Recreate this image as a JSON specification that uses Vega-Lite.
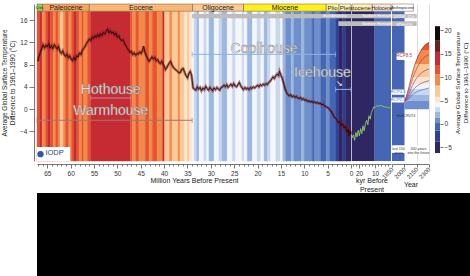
{
  "$schema": "https://vega.github.io/schema/vega-lite/v6.json",
  "padding": {"left": 1, "top": 3, "right": 0, "bottom": 0},
  "background": "white",
  "config": {
    "font": "Liberation Sans",
    "view": {"stroke": null},
    "axis": {"labelFont": "Liberation Sans", "titleFont": "Liberation Sans", "labelFontSize": 6.5, "titleFontSize": 7, "titleFontWeight": "normal", "domainColor": "#555", "tickColor": "#555", "labelColor": "#333", "titleColor": "#222", "domainWidth": 0.8, "tickWidth": 0.8}
  },
  "datasets": {
    "stripes1": [
      {"s":67.2,"e":66.6,"t":11.5},{"s":66.6,"e":66.1,"t":13.0},{"s":66.1,"e":65.4,"t":9.5},{"s":65.4,"e":64.9,"t":11.5},{"s":64.9,"e":64.3,"t":13.0},{"s":64.3,"e":63.7,"t":11.5},{"s":63.7,"e":63.2,"t":9.5},{"s":63.2,"e":62.7,"t":11.5},{"s":62.7,"e":62.2,"t":9.5},{"s":62.2,"e":61.6,"t":7.0},{"s":61.6,"e":61.1,"t":9.5},{"s":61.1,"e":60.4,"t":11.5},{"s":60.4,"e":59.8,"t":9.5},{"s":59.8,"e":59.3,"t":11.5},{"s":59.3,"e":58.7,"t":13.0},{"s":58.7,"e":58.2,"t":11.5},{"s":58.2,"e":57.6,"t":9.5},{"s":57.6,"e":57.2,"t":11.5},{"s":57.2,"e":56.4,"t":9.5},{"s":56.4,"e":55.7,"t":11.5},
      {"s":55.7,"e":47.2,"t":13.8},
      {"s":47.2,"e":46.8,"t":11.5},{"s":46.8,"e":46.0,"t":9.5},{"s":46.0,"e":45.4,"t":11.5},{"s":45.4,"e":44.0,"t":9.5},{"s":44.0,"e":43.2,"t":11.5},{"s":43.2,"e":42.5,"t":9.5},{"s":42.5,"e":41.5,"t":11.5},{"s":41.5,"e":40.3,"t":9.5},{"s":40.3,"e":39.9,"t":13.0},{"s":39.9,"e":38.8,"t":7.0},{"s":38.8,"e":38.3,"t":9.5},{"s":38.3,"e":37.0,"t":7.0},{"s":37.0,"e":36.6,"t":9.5},{"s":36.6,"e":35.6,"t":7.0},{"s":35.6,"e":35.0,"t":5.2},{"s":35.0,"e":34.6,"t":7.0},{"s":34.6,"e":34.0,"t":5.2},
      {"s":34.0,"e":33.6,"t":4.1},{"s":33.6,"e":33.0,"t":3.1},{"s":33.0,"e":32.5,"t":2.0},{"s":32.5,"e":31.5,"t":4.1},{"s":31.5,"e":30.9,"t":3.1},{"s":30.9,"e":30.4,"t":4.1},{"s":30.4,"e":29.3,"t":2.0},{"s":29.3,"e":28.3,"t":4.1},{"s":28.3,"e":27.6,"t":3.1},{"s":27.6,"e":26.5,"t":2.0},{"s":26.5,"e":25.4,"t":4.1},{"s":25.4,"e":24.7,"t":3.1},{"s":24.7,"e":23.3,"t":4.1},{"s":23.3,"e":22.9,"t":3.1},{"s":22.9,"e":22.2,"t":4.1},{"s":22.2,"e":21.1,"t":2.0},{"s":21.1,"e":20.1,"t":4.1},{"s":20.1,"e":19.3,"t":3.1},{"s":19.3,"e":18.6,"t":4.1},{"s":18.6,"e":17.9,"t":2.0},{"s":17.9,"e":17.2,"t":3.1},{"s":17.2,"e":16.1,"t":4.1},{"s":16.1,"e":15.1,"t":3.1},{"s":15.1,"e":14.6,"t":4.1},{"s":14.6,"e":14.0,"t":2.0},
      {"s":14.0,"e":12.8,"t":0.8},{"s":12.8,"e":12.2,"t":2.0},{"s":12.2,"e":10.6,"t":0.8},{"s":10.6,"e":10.0,"t":2.0},{"s":10.0,"e":8.3,"t":0.8},{"s":8.3,"e":7.8,"t":-0.6},{"s":7.8,"e":6.5,"t":0.8},{"s":6.5,"e":5.3,"t":-0.6},{"s":5.3,"e":4.5,"t":0.8},{"s":4.5,"e":3.2,"t":-0.6},{"s":3.2,"e":2.6,"t":-2.6},{"s":2.6,"e":1.8,"t":-5},{"s":1.8,"e":1.2,"t":-2.6},{"s":1.2,"e":0.0,"t":-5}
    ],
    "stripes2": [{"s":24.4,"e":10.2,"t":-5},{"s":10.2,"e":0,"t":-0.6}],
    "stripes3": [{"s":1850,"e":2000,"t":-0.6}],
    "epochs1": [{"n":"Cret.","s":67.2,"e":66},{"n":"Paleocene","s":66,"e":56},{"n":"Eocene","s":56,"e":33.9},{"n":"Oligocene","s":33.9,"e":23},{"n":"Miocene","s":23,"e":5.3},{"n":"Plio","s":5.3,"e":2.58},{"n":"Pleistocene","s":2.58,"e":0}],
    "elabels1": [{"n":"Cret.","m":66.6},{"n":"Paleocene","m":61},{"n":"Eocene","m":44.95},{"n":"Oligocene","m":28.45},{"n":"Miocene","m":14.15},{"n":"Plio","m":3.94}],
    "epochs2": [{"n":"Pleistocene","s":24.4,"e":11.7},{"n":"Holocene","s":11.7,"e":0}],
    "elabels2": [{"n":"Pleistocene","k":22.3},{"n":"Holocene","k":5.6}],
    "epochs3": [{"n":"Anthropocene","s":1850,"e":2110}],
    "ice1": [{"sheet":"Antarctic","s":34,"e":0},{"sheet":"Northern","s":2.7,"e":0}],
    "ice2": [{"sheet":"Antarctic","s":24.4,"e":0},{"sheet":"Northern","s":24.4,"e":0}],
    "ice3": [{"sheet":"Antarctic","s":1850,"e":2150},{"sheet":"Northern","s":1850,"e":2150}],
    "temp1": [
      {"m":67.0,"T":8.6},{"m":66.8,"T":9.4},{"m":66.5,"T":10.2},{"m":66.2,"T":10.8},{"m":65.9,"T":11.6},{"m":65.6,"T":11.0},{"m":65.3,"T":11.5},{"m":65.0,"T":11.2},{"m":64.7,"T":11.8},{"m":64.4,"T":11.0},{"m":64.1,"T":11.4},{"m":63.8,"T":10.9},{"m":63.5,"T":11.6},{"m":63.2,"T":11.2},{"m":62.9,"T":10.8},{"m":62.6,"T":11.3},{"m":62.3,"T":10.4},{"m":62.0,"T":10.0},{"m":61.7,"T":10.5},{"m":61.4,"T":9.8},{"m":61.1,"T":9.5},{"m":60.8,"T":9.9},{"m":60.5,"T":9.2},{"m":60.2,"T":9.6},{"m":59.9,"T":9.0},{"m":59.6,"T":8.7},{"m":59.3,"T":9.3},{"m":59.0,"T":8.8},{"m":58.7,"T":9.6},{"m":58.4,"T":9.4},{"m":58.1,"T":10.1},{"m":57.8,"T":9.8},{"m":57.5,"T":10.6},{"m":57.2,"T":10.9},{"m":56.9,"T":11.3},{"m":56.6,"T":11.8},{"m":56.3,"T":12.2},{"m":56.0,"T":12.6},{"m":55.7,"T":12.3},{"m":55.4,"T":13.0},{"m":55.1,"T":12.7},{"m":54.8,"T":13.2},{"m":54.5,"T":12.9},{"m":54.2,"T":13.4},{"m":53.9,"T":13.0},{"m":53.6,"T":13.6},{"m":53.3,"T":13.2},{"m":53.0,"T":13.8},{"m":52.7,"T":13.5},{"m":52.4,"T":14.0},{"m":52.1,"T":14.4},{"m":51.8,"T":13.7},{"m":51.5,"T":14.1},{"m":51.2,"T":13.6},{"m":50.9,"T":13.9},{"m":50.6,"T":13.3},{"m":50.3,"T":13.7},{"m":50.0,"T":12.9},{"m":49.7,"T":13.2},{"m":49.4,"T":12.6},{"m":49.1,"T":12.3},{"m":48.8,"T":12.5},{"m":48.5,"T":11.9},{"m":48.2,"T":11.4},{"m":47.9,"T":11.0},{"m":47.6,"T":10.6},{"m":47.3,"T":10.2},{"m":47.0,"T":10.4},{"m":46.7,"T":9.8},{"m":46.4,"T":10.1},{"m":46.1,"T":9.7},{"m":45.8,"T":10.0},{"m":45.5,"T":9.9},{"m":45.2,"T":10.3},{"m":44.9,"T":10.0},{"m":44.6,"T":10.6},{"m":44.4,"T":11.3},{"m":44.1,"T":10.2},{"m":43.8,"T":9.6},{"m":43.5,"T":9.0},{"m":43.2,"T":8.6},{"m":42.9,"T":9.0},{"m":42.6,"T":9.4},{"m":42.3,"T":9.0},{"m":42.0,"T":9.3},{"m":41.7,"T":8.7},{"m":41.4,"T":8.9},{"m":41.1,"T":8.4},{"m":40.8,"T":8.2},{"m":40.5,"T":8.6},{"m":40.2,"T":8.0},{"m":39.9,"T":7.6},{"m":39.7,"T":7.1},{"m":39.4,"T":7.5},{"m":39.1,"T":8.0},{"m":38.8,"T":8.4},{"m":38.6,"T":8.6},{"m":38.3,"T":7.9},{"m":38.0,"T":7.5},{"m":37.7,"T":7.2},{"m":37.4,"T":7.0},{"m":37.1,"T":6.8},{"m":36.8,"T":6.5},{"m":36.5,"T":6.6},{"m":36.2,"T":7.2},{"m":35.9,"T":7.3},{"m":35.6,"T":6.6},{"m":35.3,"T":6.0},{"m":35.0,"T":5.6},{"m":34.7,"T":6.4},{"m":34.4,"T":6.8},{"m":34.1,"T":6.0},{"m":33.8,"T":3.8},{"m":33.5,"T":3.6},{"m":33.2,"T":3.4},{"m":32.9,"T":4.0},{"m":32.6,"T":3.6},{"m":32.3,"T":3.9},{"m":32.0,"T":3.3},{"m":31.7,"T":3.8},{"m":31.4,"T":3.5},{"m":31.1,"T":4.1},{"m":30.8,"T":3.7},{"m":30.5,"T":3.4},{"m":30.2,"T":3.9},{"m":29.9,"T":3.6},{"m":29.6,"T":3.3},{"m":29.3,"T":3.8},{"m":29.0,"T":3.5},{"m":28.7,"T":3.9},{"m":28.4,"T":3.6},{"m":28.1,"T":3.4},{"m":27.8,"T":3.9},{"m":27.5,"T":4.0},{"m":27.2,"T":4.3},{"m":26.9,"T":4.0},{"m":26.6,"T":4.4},{"m":26.3,"T":3.9},{"m":26.0,"T":4.2},{"m":25.7,"T":4.5},{"m":25.4,"T":4.1},{"m":25.1,"T":4.6},{"m":24.8,"T":4.2},{"m":24.5,"T":4.0},{"m":24.2,"T":4.4},{"m":23.9,"T":4.8},{"m":23.6,"T":4.2},{"m":23.3,"T":3.8},{"m":23.0,"T":3.5},{"m":22.7,"T":3.9},{"m":22.4,"T":3.6},{"m":22.1,"T":3.8},{"m":21.8,"T":3.5},{"m":21.5,"T":3.9},{"m":21.2,"T":3.7},{"m":20.9,"T":4.0},{"m":20.6,"T":3.8},{"m":20.3,"T":4.1},{"m":20.0,"T":4.3},{"m":19.7,"T":4.0},{"m":19.4,"T":4.4},{"m":19.1,"T":4.2},{"m":18.8,"T":4.5},{"m":18.5,"T":4.3},{"m":18.2,"T":4.6},{"m":17.9,"T":4.4},{"m":17.6,"T":4.8},{"m":17.3,"T":5.0},{"m":17.0,"T":5.4},{"m":16.7,"T":5.8},{"m":16.4,"T":5.5},{"m":16.1,"T":6.0},{"m":15.8,"T":6.3},{"m":15.5,"T":6.0},{"m":15.3,"T":6.8},{"m":15.0,"T":6.1},{"m":14.7,"T":5.5},{"m":14.4,"T":4.6},{"m":14.1,"T":3.6},{"m":13.8,"T":3.0},{"m":13.5,"T":2.6},{"m":13.2,"T":2.4},{"m":12.9,"T":2.6},{"m":12.6,"T":2.2},{"m":12.3,"T":2.4},{"m":12.0,"T":2.1},{"m":11.7,"T":2.3},{"m":11.4,"T":2.0},{"m":11.1,"T":1.9},{"m":10.8,"T":2.1},{"m":10.5,"T":1.7},{"m":10.2,"T":1.9},{"m":9.9,"T":1.6},{"m":9.6,"T":1.7},{"m":9.3,"T":1.4},{"m":9.0,"T":1.5},{"m":8.7,"T":1.3},{"m":8.4,"T":1.4},{"m":8.1,"T":1.2},{"m":7.8,"T":1.3},{"m":7.5,"T":1.1},{"m":7.2,"T":1.2},{"m":6.9,"T":1.0},{"m":6.6,"T":1.1},{"m":6.3,"T":0.8},{"m":6.0,"T":0.9},{"m":5.7,"T":0.6},{"m":5.4,"T":0.5},{"m":5.1,"T":0.3},{"m":4.8,"T":0.2},{"m":4.5,"T":-0.2},{"m":4.2,"T":-0.4},{"m":3.9,"T":-0.9},{"m":3.6,"T":-1.4},{"m":3.3,"T":-1.6},{"m":3.0,"T":-2.0},{"m":2.7,"T":-2.4},{"m":2.4,"T":-2.2},{"m":2.1,"T":-3.0},{"m":1.8,"T":-2.6},{"m":1.5,"T":-3.4},{"m":1.2,"T":-3.0},{"m":0.9,"T":-4.2},{"m":0.6,"T":-3.6},{"m":0.4,"T":-4.8},{"m":0.2,"T":-3.9},{"m":0.0,"T":-4.5}
    ],
    "temp2": [
      {"k":24.4,"T":-5.2},{"k":23.5,"T":-4.6},{"k":22.8,"T":-5.6},{"k":22.0,"T":-4.2},{"k":21.3,"T":-5.0},{"k":20.5,"T":-3.8},{"k":19.8,"T":-4.8},{"k":19.0,"T":-3.5},{"k":18.3,"T":-4.4},{"k":17.5,"T":-3.0},{"k":16.8,"T":-3.9},{"k":16.0,"T":-2.6},{"k":15.2,"T":-2.0},{"k":14.5,"T":-2.8},{"k":13.8,"T":-1.2},{"k":13.0,"T":-1.8},{"k":12.3,"T":-0.6},{"k":11.6,"T":-0.2},{"k":10.8,"T":0.4},{"k":10.0,"T":0.3},{"k":9.0,"T":0.6},{"k":8.0,"T":0.5},{"k":7.0,"T":0.7},{"k":6.0,"T":0.6},{"k":5.0,"T":0.5},{"k":4.0,"T":0.4},{"k":3.0,"T":0.4},{"k":2.0,"T":0.3},{"k":1.0,"T":0.2},{"k":0.2,"T":0.3}
    ],
    "rcp": [
      {"run":"R1","yr":2000,"T":1.2},{"run":"R1","yr":2050,"T":3.6},{"run":"R1","yr":2100,"T":6.6},{"run":"R1","yr":2150,"T":8.9},{"run":"R1","yr":2200,"T":10.5},{"run":"R1","yr":2250,"T":11.5},{"run":"R1","yr":2300,"T":12.0},
      {"run":"R2","yr":2000,"T":1.2},{"run":"R2","yr":2050,"T":3.0},{"run":"R2","yr":2100,"T":5.5},{"run":"R2","yr":2150,"T":7.3},{"run":"R2","yr":2200,"T":8.6},{"run":"R2","yr":2250,"T":9.4},{"run":"R2","yr":2300,"T":9.8},
      {"run":"R3","yr":2000,"T":1.2},{"run":"R3","yr":2050,"T":2.5},{"run":"R3","yr":2100,"T":4.3},{"run":"R3","yr":2150,"T":5.6},{"run":"R3","yr":2200,"T":6.4},{"run":"R3","yr":2250,"T":6.9},{"run":"R3","yr":2300,"T":7.2},
      {"run":"R4","yr":2000,"T":1.2},{"run":"R4","yr":2050,"T":2.1},{"run":"R4","yr":2100,"T":3.3},{"run":"R4","yr":2150,"T":4.1},{"run":"R4","yr":2200,"T":4.6},{"run":"R4","yr":2250,"T":4.9},{"run":"R4","yr":2300,"T":5.1},
      {"run":"R5","yr":2000,"T":1.2},{"run":"R5","yr":2050,"T":1.8},{"run":"R5","yr":2100,"T":2.6},{"run":"R5","yr":2150,"T":3.1},{"run":"R5","yr":2200,"T":3.4},{"run":"R5","yr":2250,"T":3.6},{"run":"R5","yr":2300,"T":3.8},
      {"run":"R6","yr":2000,"T":1.2},{"run":"R6","yr":2050,"T":1.5},{"run":"R6","yr":2100,"T":1.8},{"run":"R6","yr":2150,"T":1.9},{"run":"R6","yr":2200,"T":2.0},{"run":"R6","yr":2250,"T":2.0},{"run":"R6","yr":2300,"T":2.0}
    ],
    "houses": [{"txt":"Hothouse","m":51.4,"T":3.43},{"txt":"Warmhouse","m":51.4,"T":-0.34},{"txt":"Coolhouse","m":18.6,"T":10.75},{"txt":"Icehouse","m":6.1,"T":6.55}],
    "brackets": [{"name":"Warmhouse","s":67.2,"e":34,"T":-2.0},{"name":"Hothouse","s":55.7,"e":47.2,"T":2.0},{"name":"Coolhouse","s":34,"e":3.3,"T":9.85},{"name":"Icehouse","s":3.3,"e":0,"T":3.55}],
    "boxes3": [{"s":1905,"e":2090,"lo":8.85,"hi":10.15},{"s":1850,"e":2000,"lo":2.6,"hi":3.55},{"s":1850,"e":2000,"lo":1.2,"hi":2.1},{"s":1850,"e":2010,"lo":-7.9,"hi":-6.5},{"s":2045,"e":2300,"lo":-7.9,"hi":-6.5}],
    "labels3": [{"txt":"RCP8.5","yr":1997,"T":9.5,"grp":"red"},{"txt":"RCP4.5","yr":1925,"T":3.07,"grp":"blue"},{"txt":"RCP2.6","yr":1925,"T":1.64,"grp":"blue"},{"txt":"HadCRUT4","yr":2020,"T":-1.25,"grp":"dark"},{"txt":["last 150","years"],"yr":1930,"T":-7.2,"grp":"dark"},{"txt":["300 years","into the future"],"yr":2172,"T":-7.2,"grp":"dark"}],
    "cbar": [{"lo":-6.2,"hi":-3.8,"t":-5},{"lo":-3.8,"hi":-1.4,"t":-2.6},{"lo":-1.4,"hi":0.2,"t":-0.6},{"lo":0.2,"hi":1.4,"t":0.8},{"lo":1.4,"hi":2.6,"t":2.0},{"lo":2.6,"hi":3.6,"t":3.1},{"lo":3.6,"hi":4.6,"t":4.1},{"lo":4.6,"hi":5.8,"t":5.2},{"lo":5.8,"hi":8.2,"t":7},{"lo":8.2,"hi":10.6,"t":9.4},{"lo":10.6,"hi":12.6,"t":11.6},{"lo":12.6,"hi":15.4,"t":14},{"lo":15.4,"hi":17.8,"t":16.6},{"lo":17.8,"hi":20.9,"t":19.3}]
  },
  "vconcat": [
    {
      "hconcat": [
        {
          "hconcat": [
            {
              "width": 314, "height": 157,
              "resolve": {"axis": {"x": "independent", "y": "independent"}},
              "layer": [
                {"data": {"name": "stripes1"}, "mark": {"type": "rect", "strokeWidth": 0.4},
                 "encoding": {
                   "x": {"field": "s", "type": "quantitative", "scale": {"domain": [0, 67.2], "reverse": true, "nice": false, "zero": false},
                         "axis": {"values": [0,1,2,3,4,5,6,7,8,9,10,11,12,13,14,15,16,17,18,19,20,21,22,23,24,25,26,27,28,29,30,31,32,33,34,35,36,37,38,39,40,41,42,43,44,45,46,47,48,49,50,51,52,53,54,55,56,57,58,59,60,61,62,63,64,65,66,67],
                                  "labelExpr": "datum.value % 5 === 0 ? datum.label : ''",
                                  "tickSize": {"condition": {"test": "datum.value % 5 === 0", "value": 4}, "value": 2},
                                  "format": "d", "offset": 3, "labelOverlap": false, "labelFlush": false, "labelPadding": 2, "title": "Million Years Before Present", "titlePadding": 0}},
                   "x2": {"field": "e"},
                   "y": {"datum": -9.32, "type": "quantitative", "scale": {"domain": [-9.32, 18.9], "nice": false, "zero": false},
                         "axis": {"values": [-4,0,4,8,12,16], "format": "d", "tickSize": 5, "offset": 3, "labelPadding": 2, "labelOverlap": false, "labelFlush": false, "grid": true, "gridColor": "#ffffff", "gridOpacity": 0.25, "gridWidth": 0.6,
                                  "title": ["Average Global Surface Temperature", "Difference to 1961–1990 (°C)"], "titleFontSize": 6.5, "titlePadding": 4}},
                   "y2": {"datum": 17.6},
                   "color": {"field": "t", "type": "quantitative", "legend": null, "scale": {"type": "threshold", "domain": [-3.8,-1.4,0.2,1.4,2.6,3.6,4.6,5.8,8.2,10.6,12.6,15.4,17.8], "range": ["#2e2763","#2f3f92","#4565b5","#6f8fcb","#9cb8e0","#c8d8ee","#f4f6fb","#fde6cf","#fbc896","#f28a4c","#e6532f","#c62b34","#6e1f1f","#140a0a"]}},
                   "stroke": {"field": "t", "type": "quantitative", "legend": null, "scale": {"type": "threshold", "domain": [-3.8,-1.4,0.2,1.4,2.6,3.6,4.6,5.8,8.2,10.6,12.6,15.4,17.8], "range": ["#2e2763","#2f3f92","#4565b5","#6f8fcb","#9cb8e0","#c8d8ee","#f4f6fb","#fde6cf","#fbc896","#f28a4c","#e6532f","#c62b34","#6e1f1f","#140a0a"]}}
                 }},
                {"data": {"name": "epochs1"}, "mark": {"type": "rect", "stroke": "#6b5a40", "strokeWidth": 0.5},
                 "encoding": {
                   "x": {"field": "s", "type": "quantitative", "scale": {"domain": [0, 67.2], "reverse": true, "nice": false, "zero": false}, "axis": null},
                   "x2": {"field": "e"},
                   "y": {"datum": 17.6, "type": "quantitative", "scale": {"domain": [-9.32, 18.9], "nice": false, "zero": false}, "axis": null},
                   "y2": {"datum": 18.9},
                   "fill": {"field": "n", "type": "nominal", "legend": null, "scale": {"domain": ["Cret.","Paleocene","Eocene","Oligocene","Miocene","Plio","Pleistocene","Holocene","Anthropocene"], "range": ["#8fcf4f","#f5a35f","#f8b774","#fdca92","#ffef1a","#fff98c","#fff2b3","#fde8d4","#ffffff"]}}
                 }},
                {"data": {"name": "elabels1"}, "transform": [{"filter": "datum.n !== 'Cret.' && datum.n !== 'Plio'"}],
                 "mark": {"type": "text", "fontSize": 7, "color": "#222", "baseline": "middle"},
                 "encoding": {
                   "x": {"field": "m", "type": "quantitative", "scale": {"domain": [0, 67.2], "reverse": true, "nice": false, "zero": false}, "axis": null},
                   "y": {"datum": 18.22, "type": "quantitative", "scale": {"domain": [-9.32, 18.9], "nice": false, "zero": false}, "axis": null},
                   "text": {"field": "n"}
                 }},
                {"data": {"name": "elabels1"}, "transform": [{"filter": "datum.n === 'Plio'"}],
                 "mark": {"type": "text", "fontSize": 6, "color": "#222", "baseline": "middle"},
                 "encoding": {
                   "x": {"field": "m", "type": "quantitative", "scale": {"domain": [0, 67.2], "reverse": true, "nice": false, "zero": false}, "axis": null},
                   "y": {"datum": 18.22, "type": "quantitative", "scale": {"domain": [-9.32, 18.9], "nice": false, "zero": false}, "axis": null},
                   "text": {"field": "n"}
                 }},
                {"data": {"name": "elabels1"}, "transform": [{"filter": "datum.n === 'Cret.'"}],
                 "mark": {"type": "text", "fontSize": 4, "color": "#222", "baseline": "middle"},
                 "encoding": {
                   "x": {"field": "m", "type": "quantitative", "scale": {"domain": [0, 67.2], "reverse": true, "nice": false, "zero": false}, "axis": null},
                   "y": {"datum": 18.22, "type": "quantitative", "scale": {"domain": [-9.32, 18.9], "nice": false, "zero": false}, "axis": null},
                   "text": {"field": "n"}
                 }},
                {"data": {"name": "ice1"}, "transform": [{"filter": "datum.sheet === 'Antarctic'"}], "mark": {"type": "rect", "color": "#bdbdbd"},
                 "encoding": {
                   "x": {"field": "s", "type": "quantitative", "scale": {"domain": [0, 67.2], "reverse": true, "nice": false, "zero": false}, "axis": null},
                   "x2": {"field": "e"},
                   "y": {"datum": 16.35, "type": "quantitative", "scale": {"domain": [-9.32, 18.9], "nice": false, "zero": false}, "axis": null},
                   "y2": {"datum": 17.1}
                 }},
                {"data": {"name": "ice1"}, "transform": [{"filter": "datum.sheet === 'Northern'"}], "mark": {"type": "rect", "color": "#bdbdbd"},
                 "encoding": {
                   "x": {"field": "s", "type": "quantitative", "scale": {"domain": [0, 67.2], "reverse": true, "nice": false, "zero": false}, "axis": null},
                   "x2": {"field": "e"},
                   "y": {"datum": 14.95, "type": "quantitative", "scale": {"domain": [-9.32, 18.9], "nice": false, "zero": false}, "axis": null},
                   "y2": {"datum": 15.8}
                 }},
                {"data": {"values": [{"txt": "East Antarctica"}]}, "mark": {"type": "text", "fontSize": 3.5, "color": "#ffffff", "baseline": "middle"},
                 "encoding": {
                   "x": {"datum": 3.4, "type": "quantitative", "scale": {"domain": [0, 67.2], "reverse": true, "nice": false, "zero": false}, "axis": null},
                   "y": {"datum": 16.72, "type": "quantitative", "scale": {"domain": [-9.32, 18.9], "nice": false, "zero": false}, "axis": null},
                   "text": {"field": "txt"}
                 }},
                {"data": {"values": [{"logo": "IODP"}]}, "mark": {"type": "rect", "color": "#ffffff"},
                 "encoding": {
                   "x": {"datum": 67.2, "type": "quantitative", "scale": {"domain": [0, 67.2], "reverse": true, "nice": false, "zero": false}, "axis": null},
                   "x2": {"datum": 60.1},
                   "y": {"datum": -9.32, "type": "quantitative", "scale": {"domain": [-9.32, 18.9], "nice": false, "zero": false}, "axis": null},
                   "y2": {"datum": -6.8}
                 }},
                {"data": {"values": [{"logo": "IODP"}]}, "mark": {"type": "point", "filled": true, "color": "#2c5aa0", "size": 40, "opacity": 1},
                 "encoding": {
                   "x": {"datum": 66.45, "type": "quantitative", "scale": {"domain": [0, 67.2], "reverse": true, "nice": false, "zero": false}, "axis": null},
                   "y": {"datum": -8.1, "type": "quantitative", "scale": {"domain": [-9.32, 18.9], "nice": false, "zero": false}, "axis": null}
                 }},
                {"data": {"values": [{"logo": "IODP"}]}, "mark": {"type": "text", "fontSize": 7.5, "color": "#27457f", "align": "left", "baseline": "middle"},
                 "encoding": {
                   "x": {"datum": 65.4, "type": "quantitative", "scale": {"domain": [0, 67.2], "reverse": true, "nice": false, "zero": false}, "axis": null},
                   "y": {"datum": -7.8, "type": "quantitative", "scale": {"domain": [-9.32, 18.9], "nice": false, "zero": false}, "axis": null},
                   "text": {"field": "logo"}
                 }},
                {"data": {"name": "brackets"}, "mark": {"type": "rule", "strokeWidth": 1},
                 "encoding": {
                   "x": {"field": "s", "type": "quantitative", "scale": {"domain": [0, 67.2], "reverse": true, "nice": false, "zero": false}, "axis": null},
                   "x2": {"field": "e"},
                   "y": {"field": "T", "type": "quantitative", "scale": {"domain": [-9.32, 18.9], "nice": false, "zero": false}, "axis": null},
                   "color": {"field": "name", "type": "nominal", "legend": null, "scale": {"domain": ["Warmhouse","Hothouse","Coolhouse","Icehouse"], "range": ["#9a7a72","#b98b93","#8ab4e8","#8ab4e8"]}}
                 }},
                {"data": {"name": "brackets"}, "transform": [{"fold": ["s", "e"], "as": ["end", "pos"]}], "mark": {"type": "tick", "orient": "vertical", "size": 5, "thickness": 1},
                 "encoding": {
                   "x": {"field": "pos", "type": "quantitative", "scale": {"domain": [0, 67.2], "reverse": true, "nice": false, "zero": false}, "axis": null},
                   "y": {"field": "T", "type": "quantitative", "scale": {"domain": [-9.32, 18.9], "nice": false, "zero": false}, "axis": null},
                   "color": {"field": "name", "type": "nominal", "legend": null, "scale": {"domain": ["Warmhouse","Hothouse","Coolhouse","Icehouse"], "range": ["#9a7a72","#b98b93","#8ab4e8","#8ab4e8"]}}
                 }},
                {"data": {"name": "temp1"}, "mark": {"type": "line", "color": "#7a1c1c", "strokeWidth": 2.6, "opacity": 0.55},
                 "encoding": {
                   "x": {"field": "m", "type": "quantitative", "scale": {"domain": [0, 67.2], "reverse": true, "nice": false, "zero": false}, "axis": null},
                   "y": {"field": "T", "type": "quantitative", "scale": {"domain": [-9.32, 18.9], "nice": false, "zero": false}, "axis": null}
                 }},
                {"data": {"name": "temp1"}, "mark": {"type": "line", "color": "#1b0606", "strokeWidth": 0.8},
                 "encoding": {
                   "x": {"field": "m", "type": "quantitative", "scale": {"domain": [0, 67.2], "reverse": true, "nice": false, "zero": false}, "axis": null},
                   "y": {"field": "T", "type": "quantitative", "scale": {"domain": [-9.32, 18.9], "nice": false, "zero": false}, "axis": null}
                 }},
                {"data": {"name": "houses"}, "mark": {"type": "text", "fontSize": 14, "fill": "#ffffff", "stroke": "#7a7a7a", "strokeWidth": 0.45, "baseline": "middle"},
                 "encoding": {
                   "x": {"field": "m", "type": "quantitative", "scale": {"domain": [0, 67.2], "reverse": true, "nice": false, "zero": false}, "axis": null},
                   "y": {"field": "T", "type": "quantitative", "scale": {"domain": [-9.32, 18.9], "nice": false, "zero": false}, "axis": null},
                   "text": {"field": "txt"}
                 }},
                {"data": {"values": [{"sym": "↘"}]}, "mark": {"type": "text", "fontSize": 8, "color": "#ffffff", "baseline": "middle"},
                 "encoding": {
                   "x": {"datum": 2.4, "type": "quantitative", "scale": {"domain": [0, 67.2], "reverse": true, "nice": false, "zero": false}, "axis": null},
                   "y": {"datum": 4.6, "type": "quantitative", "scale": {"domain": [-9.32, 18.9], "nice": false, "zero": false}, "axis": null},
                   "text": {"field": "sym"}
                 }}
              ]
            },
            {
              "width": 39, "height": 157,
              "resolve": {"axis": {"x": "independent"}},
              "layer": [
                {"data": {"name": "stripes2"}, "mark": {"type": "rect", "strokeWidth": 0.4},
                 "encoding": {
                   "x": {"field": "s", "type": "quantitative", "scale": {"domain": [0, 24.4], "reverse": true, "nice": false, "zero": false},
                         "axis": {"values": [2,4,6,8,10,12,14,16,18,20,22,24],
                                  "labelExpr": "(datum.value === 10 || datum.value === 20) ? datum.label : ''",
                                  "tickSize": {"condition": {"test": "datum.value % 10 === 0", "value": 4}, "value": 2},
                                  "format": "d", "offset": 3, "labelOverlap": false, "labelFlush": false, "labelPadding": 2, "title": ["kyr Before", "Present"], "titlePadding": 0}},
                   "x2": {"field": "e"},
                   "y": {"datum": -9.32, "type": "quantitative", "scale": {"domain": [-9.32, 18.9], "nice": false, "zero": false}, "axis": null},
                   "y2": {"datum": 17.6},
                   "color": {"field": "t", "type": "quantitative", "legend": null, "scale": {"type": "threshold", "domain": [-3.8,-1.4,0.2,1.4,2.6,3.6,4.6,5.8,8.2,10.6,12.6,15.4,17.8], "range": ["#2e2763","#2f3f92","#4565b5","#6f8fcb","#9cb8e0","#c8d8ee","#f4f6fb","#fde6cf","#fbc896","#f28a4c","#e6532f","#c62b34","#6e1f1f","#140a0a"]}}
                 }},
                {"data": {"name": "epochs2"}, "mark": {"type": "rect", "stroke": "#6b5a40", "strokeWidth": 0.5},
                 "encoding": {
                   "x": {"field": "s", "type": "quantitative", "scale": {"domain": [0, 24.4], "reverse": true, "nice": false, "zero": false}, "axis": null},
                   "x2": {"field": "e"},
                   "y": {"datum": 17.6, "type": "quantitative", "scale": {"domain": [-9.32, 18.9], "nice": false, "zero": false}, "axis": null},
                   "y2": {"datum": 18.9},
                   "fill": {"field": "n", "type": "nominal", "legend": null, "scale": {"domain": ["Cret.","Paleocene","Eocene","Oligocene","Miocene","Plio","Pleistocene","Holocene","Anthropocene"], "range": ["#8fcf4f","#f5a35f","#f8b774","#fdca92","#ffef1a","#fff98c","#fff2b3","#fde8d4","#ffffff"]}}
                 }},
                {"data": {"name": "elabels2"}, "transform": [{"filter": "datum.n === 'Pleistocene'"}], "mark": {"type": "text", "fontSize": 6, "color": "#222", "baseline": "middle"},
                 "encoding": {
                   "x": {"field": "k", "type": "quantitative", "scale": {"domain": [0, 24.4], "reverse": true, "nice": false, "zero": false}, "axis": null},
                   "y": {"datum": 18.22, "type": "quantitative", "scale": {"domain": [-9.32, 18.9], "nice": false, "zero": false}, "axis": null},
                   "text": {"field": "n"}
                 }},
                {"data": {"name": "elabels2"}, "transform": [{"filter": "datum.n === 'Holocene'"}], "mark": {"type": "text", "fontSize": 5, "color": "#222", "baseline": "middle"},
                 "encoding": {
                   "x": {"field": "k", "type": "quantitative", "scale": {"domain": [0, 24.4], "reverse": true, "nice": false, "zero": false}, "axis": null},
                   "y": {"datum": 18.22, "type": "quantitative", "scale": {"domain": [-9.32, 18.9], "nice": false, "zero": false}, "axis": null},
                   "text": {"field": "n"}
                 }},
                {"data": {"name": "ice2"}, "transform": [{"filter": "datum.sheet === 'Antarctic'"}], "mark": {"type": "rect", "color": "#bdbdbd"},
                 "encoding": {
                   "x": {"field": "s", "type": "quantitative", "scale": {"domain": [0, 24.4], "reverse": true, "nice": false, "zero": false}, "axis": null},
                   "x2": {"field": "e"},
                   "y": {"datum": 16.35, "type": "quantitative", "scale": {"domain": [-9.32, 18.9], "nice": false, "zero": false}, "axis": null},
                   "y2": {"datum": 17.1}
                 }},
                {"data": {"name": "ice2"}, "transform": [{"filter": "datum.sheet === 'Northern'"}], "mark": {"type": "rect", "color": "#bdbdbd"},
                 "encoding": {
                   "x": {"field": "s", "type": "quantitative", "scale": {"domain": [0, 24.4], "reverse": true, "nice": false, "zero": false}, "axis": null},
                   "x2": {"field": "e"},
                   "y": {"datum": 14.95, "type": "quantitative", "scale": {"domain": [-9.32, 18.9], "nice": false, "zero": false}, "axis": null},
                   "y2": {"datum": 15.8}
                 }},
                {"data": {"values": [{"txt": "Southern Hemisphere", "T": 16.72}, {"txt": "Northern Hemisphere", "T": 15.38}]}, "mark": {"type": "text", "fontSize": 3.5, "color": "#ffffff", "baseline": "middle"},
                 "encoding": {
                   "x": {"datum": 7.4, "type": "quantitative", "scale": {"domain": [0, 24.4], "reverse": true, "nice": false, "zero": false}, "axis": null},
                   "y": {"field": "T", "type": "quantitative", "scale": {"domain": [-9.32, 18.9], "nice": false, "zero": false}, "axis": null},
                   "text": {"field": "txt"}
                 }},
                {"data": {"name": "temp2"}, "mark": {"type": "line", "color": "#8fbf6a", "strokeWidth": 1},
                 "encoding": {
                   "x": {"field": "k", "type": "quantitative", "scale": {"domain": [0, 24.4], "reverse": true, "nice": false, "zero": false}, "axis": null},
                   "y": {"field": "T", "type": "quantitative", "scale": {"domain": [-9.32, 18.9], "nice": false, "zero": false}, "axis": null}
                 }}
              ]
            },
            {
              "width": 37, "height": 157,
              "resolve": {"scale": {"color": "independent"}, "axis": {"x": "independent"}},
              "layer": [
                {"data": {"name": "stripes3"}, "mark": {"type": "rect"},
                 "encoding": {
                   "x": {"field": "s", "type": "quantitative", "scale": {"domain": [1850, 2300], "nice": false, "zero": false},
                         "axis": {"values": [1850, 2000, 2150, 2300], "format": "d", "labelAngle": 315, "labelAlign": "right", "labelBaseline": "middle", "labelFontSize": 6, "tickSize": 3, "offset": 3, "labelOverlap": false, "labelFlush": false, "labelPadding": 1, "title": "Year", "titlePadding": 1}},
                   "x2": {"field": "e"},
                   "y": {"datum": -9.32, "type": "quantitative", "scale": {"domain": [-9.32, 18.9], "nice": false, "zero": false}, "axis": null},
                   "y2": {"datum": 17.6},
                   "color": {"field": "t", "type": "quantitative", "legend": null, "scale": {"type": "threshold", "domain": [-3.8,-1.4,0.2,1.4,2.6,3.6,4.6,5.8,8.2,10.6,12.6,15.4,17.8], "range": ["#2e2763","#2f3f92","#4565b5","#6f8fcb","#9cb8e0","#c8d8ee","#f4f6fb","#fde6cf","#fbc896","#f28a4c","#e6532f","#c62b34","#6e1f1f","#140a0a"]}}
                 }},
                {"data": {"name": "rcp"}, "transform": [{"filter": "datum.run === 'R1'"}],
                 "mark": {"type": "area", "interpolate": "monotone",
                          "color": {"gradient": "linear", "x1": 0, "y1": 1, "x2": 0, "y2": 0,
                                    "stops": [{"offset": 0, "color": "#6f8fcb"}, {"offset": 0.117, "color": "#6f8fcb"}, {"offset": 0.117, "color": "#9cb8e0"}, {"offset": 0.217, "color": "#9cb8e0"}, {"offset": 0.217, "color": "#c8d8ee"}, {"offset": 0.3, "color": "#c8d8ee"}, {"offset": 0.3, "color": "#f4f6fb"}, {"offset": 0.383, "color": "#f4f6fb"}, {"offset": 0.383, "color": "#fde6cf"}, {"offset": 0.483, "color": "#fde6cf"}, {"offset": 0.483, "color": "#fbc896"}, {"offset": 0.683, "color": "#fbc896"}, {"offset": 0.683, "color": "#f28a4c"}, {"offset": 0.883, "color": "#f28a4c"}, {"offset": 0.883, "color": "#e6532f"}, {"offset": 1, "color": "#e6532f"}]}},
                 "encoding": {
                   "x": {"field": "yr", "type": "quantitative", "scale": {"domain": [1850, 2300], "nice": false, "zero": false}, "axis": null},
                   "y": {"field": "T", "type": "quantitative", "scale": {"domain": [-9.32, 18.9], "nice": false, "zero": false}, "axis": null},
                   "y2": {"datum": 0}
                 }},
                {"data": {"name": "rcp"}, "mark": {"type": "line", "interpolate": "monotone", "strokeWidth": 0.7},
                 "encoding": {
                   "x": {"field": "yr", "type": "quantitative", "scale": {"domain": [1850, 2300], "nice": false, "zero": false}, "axis": null},
                   "y": {"field": "T", "type": "quantitative", "scale": {"domain": [-9.32, 18.9], "nice": false, "zero": false}, "axis": null},
                   "color": {"field": "run", "type": "nominal", "legend": null, "scale": {"domain": ["R1","R2","R3","R4","R5","R6"], "range": ["#8e1b1b","#c0392b","#a0406e","#7a4f96","#4a6cc0","#a5b8e2"]}}
                 }},
                {"data": {"name": "epochs3"}, "mark": {"type": "rect", "fill": "#ffffff", "stroke": "#6b5a40", "strokeWidth": 0.5},
                 "encoding": {
                   "x": {"field": "s", "type": "quantitative", "scale": {"domain": [1850, 2300], "nice": false, "zero": false}, "axis": null},
                   "x2": {"field": "e"},
                   "y": {"datum": 17.6, "type": "quantitative", "scale": {"domain": [-9.32, 18.9], "nice": false, "zero": false}, "axis": null},
                   "y2": {"datum": 18.9}
                 }},
                {"data": {"name": "epochs3"}, "mark": {"type": "text", "fontSize": 3.6, "color": "#222", "baseline": "middle"},
                 "encoding": {
                   "x": {"datum": 1980, "type": "quantitative", "scale": {"domain": [1850, 2300], "nice": false, "zero": false}, "axis": null},
                   "y": {"datum": 18.22, "type": "quantitative", "scale": {"domain": [-9.32, 18.9], "nice": false, "zero": false}, "axis": null},
                   "text": {"field": "n"}
                 }},
                {"data": {"name": "ice3"}, "transform": [{"filter": "datum.sheet === 'Antarctic'"}], "mark": {"type": "rect", "color": "#bdbdbd"},
                 "encoding": {
                   "x": {"field": "s", "type": "quantitative", "scale": {"domain": [1850, 2300], "nice": false, "zero": false}, "axis": null},
                   "x2": {"field": "e"},
                   "y": {"datum": 16.35, "type": "quantitative", "scale": {"domain": [-9.32, 18.9], "nice": false, "zero": false}, "axis": null},
                   "y2": {"datum": 17.1}
                 }},
                {"data": {"name": "ice3"}, "transform": [{"filter": "datum.sheet === 'Northern'"}], "mark": {"type": "rect", "color": "#bdbdbd"},
                 "encoding": {
                   "x": {"field": "s", "type": "quantitative", "scale": {"domain": [1850, 2300], "nice": false, "zero": false}, "axis": null},
                   "x2": {"field": "e"},
                   "y": {"datum": 14.95, "type": "quantitative", "scale": {"domain": [-9.32, 18.9], "nice": false, "zero": false}, "axis": null},
                   "y2": {"datum": 15.8}
                 }},
                {"data": {"values": [{"txt": "polar ice", "T": 16.72}, {"txt": "sheets", "T": 15.38}]}, "mark": {"type": "text", "fontSize": 5.5, "color": "#f4f4f4", "baseline": "middle"},
                 "encoding": {
                   "x": {"datum": 2000, "type": "quantitative", "scale": {"domain": [1850, 2300], "nice": false, "zero": false}, "axis": null},
                   "y": {"field": "T", "type": "quantitative", "scale": {"domain": [-9.32, 18.9], "nice": false, "zero": false}, "axis": null},
                   "text": {"field": "txt"}
                 }},
                {"data": {"name": "boxes3"}, "mark": {"type": "rect", "color": "#ffffff", "cornerRadius": 1},
                 "encoding": {
                   "x": {"field": "s", "type": "quantitative", "scale": {"domain": [1850, 2300], "nice": false, "zero": false}, "axis": null},
                   "x2": {"field": "e"},
                   "y": {"field": "lo", "type": "quantitative", "scale": {"domain": [-9.32, 18.9], "nice": false, "zero": false}, "axis": null},
                   "y2": {"field": "hi"}
                 }},
                {"data": {"name": "labels3"}, "transform": [{"filter": "datum.grp === 'red'"}], "mark": {"type": "text", "fontSize": 4.5, "color": "#c0392b", "baseline": "middle"},
                 "encoding": {
                   "x": {"field": "yr", "type": "quantitative", "scale": {"domain": [1850, 2300], "nice": false, "zero": false}, "axis": null},
                   "y": {"field": "T", "type": "quantitative", "scale": {"domain": [-9.32, 18.9], "nice": false, "zero": false}, "axis": null},
                   "text": {"field": "txt"}
                 }},
                {"data": {"name": "labels3"}, "transform": [{"filter": "datum.grp === 'blue'"}], "mark": {"type": "text", "fontSize": 4.2, "color": "#5577c4", "baseline": "middle"},
                 "encoding": {
                   "x": {"field": "yr", "type": "quantitative", "scale": {"domain": [1850, 2300], "nice": false, "zero": false}, "axis": null},
                   "y": {"field": "T", "type": "quantitative", "scale": {"domain": [-9.32, 18.9], "nice": false, "zero": false}, "axis": null},
                   "text": {"field": "txt"}
                 }},
                {"data": {"name": "labels3"}, "transform": [{"filter": "datum.grp === 'dark'"}], "mark": {"type": "text", "fontSize": 3.6, "color": "#333", "baseline": "middle", "lineHeight": 4},
                 "encoding": {
                   "x": {"field": "yr", "type": "quantitative", "scale": {"domain": [1850, 2300], "nice": false, "zero": false}, "axis": null},
                   "y": {"field": "T", "type": "quantitative", "scale": {"domain": [-9.32, 18.9], "nice": false, "zero": false}, "axis": null},
                   "text": {"field": "txt"}
                 }}
              ]
            }
          ],
          "spacing": 1,
          "bounds": "flush"
        },
        {
          "width": 5, "height": 157,
          "data": {"name": "cbar"},
          "mark": {"type": "rect"},
          "encoding": {
            "y": {"field": "lo", "type": "quantitative", "scale": {"domain": [-7.91, 25.64], "nice": false, "zero": false},
                  "axis": {"orient": "right", "values": [-5,0,5,10,15,20], "format": "d", "tickSize": 3, "domain": false, "labelPadding": 1, "labelFontSize": 6.5, "labelOverlap": false,
                           "title": ["Average Global Surface Temperature", "Difference to 1961–1990 (°C)"], "titleFontSize": 6.2, "titleAngle": -90, "titlePadding": 1}},
            "y2": {"field": "hi"},
            "color": {"field": "t", "type": "quantitative", "legend": null, "scale": {"type": "threshold", "domain": [-3.8,-1.4,0.2,1.4,2.6,3.6,4.6,5.8,8.2,10.6,12.6,15.4,17.8], "range": ["#2e2763","#2f3f92","#4565b5","#6f8fcb","#9cb8e0","#c8d8ee","#f4f6fb","#fde6cf","#fbc896","#f28a4c","#e6532f","#c62b34","#6e1f1f","#140a0a"]}}
          }
        }
      ],
      "spacing": 3
    },
    {
      "width": 470, "height": 100,
      "view": {"fill": "black", "stroke": null},
      "data": {"values": [{"area": "letterbox"}]},
      "mark": {"type": "rect", "color": "black"},
      "encoding": {}
    }
  ],
  "spacing": 0
}
